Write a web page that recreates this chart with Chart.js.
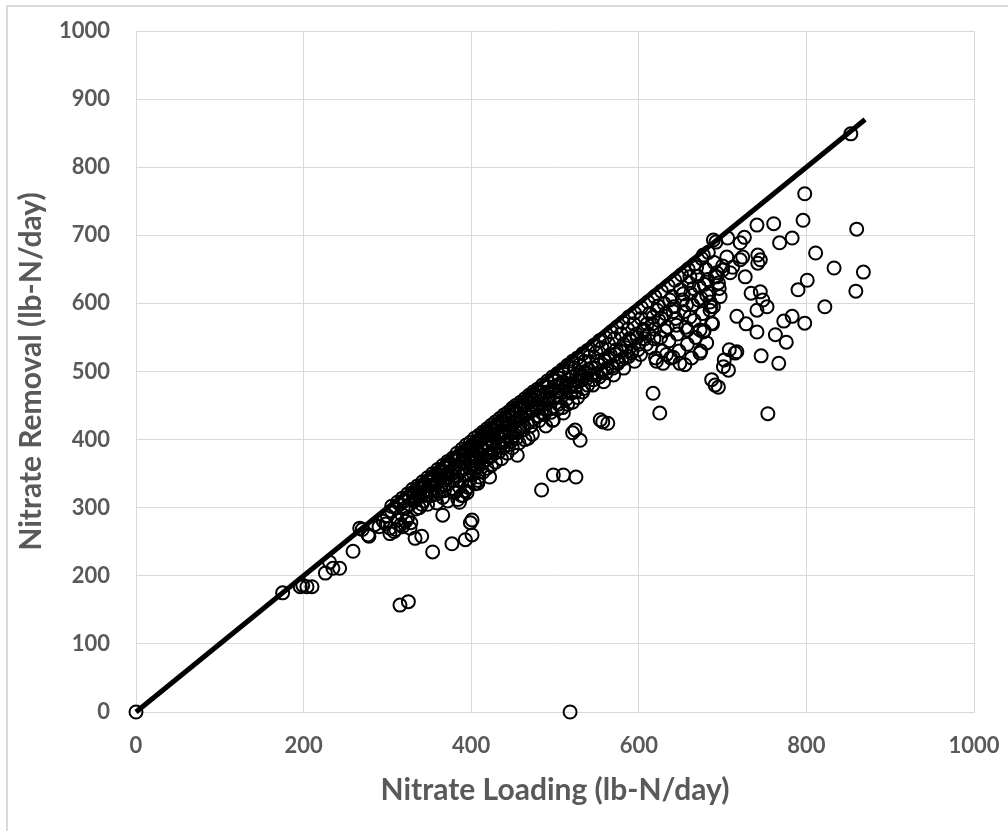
<!DOCTYPE html>
<html>
<head>
<meta charset="utf-8">
<title>Nitrate Loading vs Removal</title>
<script src="https://cdn.jsdelivr.net/npm/chart.js@4.4.1/dist/chart.umd.min.js"></script>
<style>
    html, body { margin: 0; padding: 0; background: #fff; }
    #frame {
        position: absolute; left: 6px; top: 5px; width: 1010px; height: 840px;
        border-left: 2px solid #d9d9d9; border-top: 2px solid #d9d9d9;
    }
    #wrap { position: absolute; left: 0; top: 0; width: 1008px; height: 831px; }
</style>
</head>
<body>
<div id="frame"></div>
<div id="wrap"><canvas id="chart" width="1008" height="831"></canvas></div>
<script>
// Nitrate loading (x) vs nitrate removal (y), lb-N/day

// scattered points below the main band
const loadingLow = [
    0, 518, 175, 196, 199, 204, 210, 315, 325, 226,
    231, 235, 243, 259, 267, 277, 333, 341, 354, 366,
    377, 393, 399, 401, 401, 395, 408, 484, 498, 510,
    525, 521, 524, 530, 455, 468, 554, 557, 563, 498,
    510, 617, 625, 754
];
const removalLow = [
    0, 0, 175, 184, 186, 184, 184, 157, 162, 204,
    220, 211, 211, 236, 270, 260, 255, 258, 235, 289,
    247, 253, 278, 260, 282, 322, 336, 326, 348, 348,
    345, 410, 414, 399, 377, 402, 429, 426, 424, 429,
    439, 468, 439, 438
];

// upper right spread
const loadingHigh = [
    853, 798, 796, 860, 741, 761, 768, 783, 811, 833,
    868, 801, 790, 859, 822, 798, 783, 773, 741, 763,
    717, 728, 727, 745, 742, 742, 734, 745, 748, 741,
    753, 721, 724, 721, 726, 705, 712, 700, 693, 709,
    692, 706, 677, 689, 687, 685, 673, 658, 661, 669,
    776, 767, 746, 715, 717, 708, 702, 701, 707, 691,
    695, 687, 677, 673, 681, 689, 655, 641, 629
];
const removalHigh = [
    849, 761, 722, 709, 715, 717, 689, 696, 674, 652,
    646, 634, 620, 618, 595, 571, 581, 574, 558, 554,
    581, 570, 639, 664, 659, 671, 615, 617, 605, 590,
    595, 664, 668, 689, 697, 668, 653, 649, 639, 645,
    690, 696, 671, 595, 571, 602, 561, 561, 639, 653,
    543, 512, 523, 527, 529, 532, 517, 507, 502, 480,
    477, 488, 558, 527, 542, 693, 510, 521, 512
];

// main band
const loadingBand = [
    270, 278, 285, 290, 295, 298, 300, 303, 305, 308,
    310, 312, 315, 317, 318, 320, 322, 324, 325, 327,
    328, 330, 332, 334, 335, 337, 338, 340, 342, 343,
    345, 347, 348, 350, 352, 353, 355, 357, 358, 360,
    362, 363, 365, 366, 368, 370, 372, 373, 375, 377,
    378, 380, 381, 382, 384, 385, 386, 387, 388, 390,
    391, 392, 393, 395, 396, 397, 398, 400, 401, 402,
    403, 404, 405, 406, 407, 408, 409, 410, 411, 412,
    413, 414, 415, 416, 417, 418, 419, 420, 421, 422,
    423, 424, 425, 426, 427, 428, 430, 431, 432, 433,
    435, 436, 437, 438, 440, 441, 442, 443, 445, 446,
    447, 448, 450, 451, 452, 454, 455, 456, 458, 460,
    461, 463, 465, 466, 468, 470, 472, 474, 475, 477,
    479, 480, 482, 484, 486, 488, 490, 492, 494, 496,
    498, 500, 502, 504, 506, 508, 510, 512, 514, 516,
    518, 520, 522, 524, 526, 528, 530, 532, 534, 536,
    538, 540, 543, 545, 548, 550, 552, 555, 558, 560,
    562, 565, 568, 570, 572, 575, 578, 580, 582, 585,
    588, 590, 592, 595, 598, 600, 602, 605, 607, 610,
    612, 614, 617, 619, 620, 622, 624, 626, 628, 630,
    632, 634, 636, 638, 640, 642, 644, 646, 648, 650,
    652, 654, 656, 658, 660, 662, 664, 666, 668, 670,
    672, 674, 676, 678, 680, 682, 684, 686, 688, 690,
    693, 695, 697, 700
];
const removalBand = [
    268, 258, 275, 272, 280, 276, 288, 270, 295, 265,
    300, 282, 305, 290, 272, 310, 300, 285, 315, 305,
    278, 322, 310, 298, 325, 318, 300, 330, 320, 310,
    335, 325, 305, 340, 332, 318, 342, 335, 320, 350,
    345, 330, 355, 340, 325, 360, 350, 335, 362, 355,
    340, 370, 360, 345, 312, 372, 330, 355, 318, 378,
    365, 350, 325, 385, 372, 360, 340, 390, 380, 365,
    350, 335, 395, 385, 372, 360, 345, 400, 390, 378,
    365, 352, 405, 395, 383, 370, 358, 410, 400, 388,
    375, 362, 415, 405, 393, 380, 420, 408, 395, 382,
    425, 412, 400, 388, 430, 418, 405, 392, 435, 420,
    410, 398, 438, 425, 415, 402, 440, 430, 418, 445,
    432, 420, 450, 438, 425, 455, 442, 430, 458, 448,
    435, 462, 450, 440, 465, 452, 470, 458, 445, 472,
    462, 478, 465, 452, 482, 470, 485, 475, 460, 488,
    478, 492, 482, 470, 495, 485, 498, 488, 475, 500,
    490, 503, 495, 480, 505, 495, 510, 500, 485, 515,
    505, 520, 508, 495, 525, 512, 530, 518, 505, 535,
    522, 545, 530, 515, 550, 540, 525, 560, 548, 570,
    555, 535, 580, 562, 520, 590, 575, 550, 530, 600,
    585, 565, 545, 520, 610, 595, 578, 555, 530, 620,
    605, 588, 565, 540, 630, 615, 598, 575, 550, 640,
    625, 608, 585, 560, 650, 635, 615, 595, 570, 660,
    645, 630, 610, 655
];

// more of the band, filling it in
const loadingFill = [
    331, 334, 339, 341, 344, 346, 349, 351, 356, 356,
    359, 361, 364, 367, 369, 371, 374, 376, 379, 383,
    384, 386, 389, 391, 394, 396, 399, 400, 403, 404,
    406, 408, 411, 412, 414, 417, 418, 420, 422, 423,
    425, 427, 429, 431, 433, 434, 436, 438, 439, 441,
    443, 444, 446, 448, 449, 451, 453, 455, 457, 459,
    460, 462, 464, 467, 469, 471, 473, 476, 478, 481,
    483, 485, 487, 489, 491, 493, 495, 497, 499, 501,
    503, 505, 507, 509, 511, 513, 515, 517, 519, 521,
    523, 525, 527, 529, 531, 533, 535, 537, 539, 541,
    544, 546, 549, 551, 553, 556, 559, 561, 564, 566,
    569, 571, 573, 576, 579, 582, 584, 587, 589, 591,
    594, 597, 599, 603, 606, 609, 613, 616, 618, 621,
    623, 627, 631, 633, 637, 641, 645, 649, 653, 657,
    661, 663, 665, 671, 674, 678, 681, 685, 691, 696
];
const removalFill = [
    318, 312, 329, 305, 331, 318, 338, 325, 347, 329,
    338, 322, 352, 348, 333, 343, 366, 349, 328, 371,
    352, 340, 368, 376, 348, 330, 385, 370, 392, 358,
    376, 340, 402, 386, 368, 410, 392, 375, 345, 415,
    398, 385, 367, 422, 404, 390, 372, 428, 410, 397,
    380, 434, 414, 403, 388, 444, 427, 410, 395, 448,
    432, 414, 400, 458, 440, 420, 408, 463, 445, 428,
    470, 452, 437, 420, 478, 460, 440, 428, 486, 470,
    445, 490, 462, 447, 496, 480, 452, 500, 468, 455,
    505, 478, 462, 510, 493, 470, 515, 498, 480, 522,
    505, 488, 528, 515, 492, 535, 518, 498, 540, 525,
    505, 548, 532, 515, 555, 540, 520, 562, 548, 527,
    570, 555, 532, 578, 562, 540, 585, 570, 548, 515,
    596, 578, 560, 525, 605, 588, 568, 512, 614, 598,
    580, 520, 622, 605, 530, 628, 612, 590, 640, 622
];

// points hugging the 1:1 line
const loadingEdge = [
    305, 312, 318, 324, 330, 336, 342, 348, 354, 360,
    366, 372, 378, 383, 389, 394, 399, 404, 409, 414,
    419, 424, 429, 434, 439, 444, 449, 453, 459, 464,
    469, 474, 479, 485, 491, 497, 503, 509, 515, 521,
    527, 533, 539, 546, 553, 560, 567, 574, 581, 588,
    595, 603, 611, 619, 627, 635, 643, 651, 659, 667,
    675, 683
];
const removalEdge = [
    302, 308, 314, 320, 327, 332, 338, 344, 350, 356,
    362, 368, 373, 380, 386, 392, 396, 402, 406, 411,
    416, 421, 426, 431, 436, 440, 446, 450, 455, 460,
    465, 470, 474, 480, 486, 492, 497, 503, 509, 515,
    520, 526, 531, 538, 545, 550, 558, 565, 572, 580,
    586, 594, 602, 610, 618, 626, 634, 642, 650, 658,
    666, 675
];

// under the band around 300-400
const loadingUnder = [303, 310, 316, 322, 327, 359, 366, 372, 380, 386, 390];
const removalUnder = [262, 268, 275, 280, 270, 307, 315, 310, 322, 308, 318];

// 1:1 reference line
const lineLoading = [0, 870];
const lineRemoval = [0, 870];

const axisMax = 1000;
const xStep = 200;
const yStep = 100;

const TEXT = '#595959';
const GRID = '#d9d9d9';
const FONT = 'Lato, "Open Sans", sans-serif';

function toPoints(xs, ys) {
    return xs.map((x, i) => ({ x: x, y: ys[i] }));
}

// let layout.padding alone decide where the plot area sits
function noLabelPadding(scale) {
    scale.paddingTop = 0;
    scale.paddingBottom = 0;
    scale.paddingLeft = 0;
    scale.paddingRight = 0;
}

const observed = [].concat(
    toPoints(loadingLow, removalLow),
    toPoints(loadingHigh, removalHigh),
    toPoints(loadingBand, removalBand),
    toPoints(loadingFill, removalFill),
    toPoints(loadingEdge, removalEdge),
    toPoints(loadingUnder, removalUnder)
);

new Chart(document.getElementById('chart'), {
    type: 'scatter',
    data: {
        datasets: [
            {
                label: 'Observed',
                data: observed,
                pointStyle: 'circle',
                pointRadius: 6.5,
                pointBorderWidth: 2,
                borderColor: '#000',
                backgroundColor: 'rgba(0,0,0,0)',
                clip: false
            },
            {
                type: 'line',
                label: '1:1',
                data: toPoints(lineLoading, lineRemoval),
                borderColor: '#000',
                borderWidth: 5,
                pointRadius: 0,
                fill: false,
                clip: false
            }
        ]
    },
    options: {
        responsive: false,
        animation: false,
        layout: { padding: { left: 0, top: 31, right: 34, bottom: 0 } },
        plugins: {
            legend: { display: false },
            tooltip: { enabled: false }
        },
        scales: {
            x: {
                type: 'linear',
                min: 0,
                max: axisMax,
                afterFit: (scale) => { scale.height = 119; noLabelPadding(scale); },
                grid: { color: GRID, lineWidth: 1, drawTicks: false },
                border: { color: GRID },
                ticks: {
                    stepSize: xStep,
                    padding: 21,
                    color: TEXT,
                    font: { family: FONT, size: 22, weight: 'bold' },
                    callback: (v) => String(v)
                },
                title: {
                    display: true,
                    text: 'Nitrate Loading (lb-N/day)',
                    color: TEXT,
                    font: { family: FONT, size: 30, weight: 'bold' },
                    padding: { top: 0, bottom: 23 }
                }
            },
            y: {
                type: 'linear',
                min: 0,
                max: axisMax,
                afterFit: (scale) => { scale.width = 136; noLabelPadding(scale); },
                grid: { color: GRID, lineWidth: 1, drawTicks: false },
                border: { color: GRID },
                ticks: {
                    stepSize: yStep,
                    padding: 26,
                    color: TEXT,
                    font: { family: FONT, size: 22, weight: 'bold' },
                    callback: (v) => String(v)
                },
                title: {
                    display: true,
                    text: 'Nitrate Removal (lb-N/day)',
                    color: TEXT,
                    font: { family: FONT, size: 30, weight: 'bold' },
                    padding: { top: 13, bottom: 0 }
                }
            }
        }
    }
});
</script>
</body>
</html>
